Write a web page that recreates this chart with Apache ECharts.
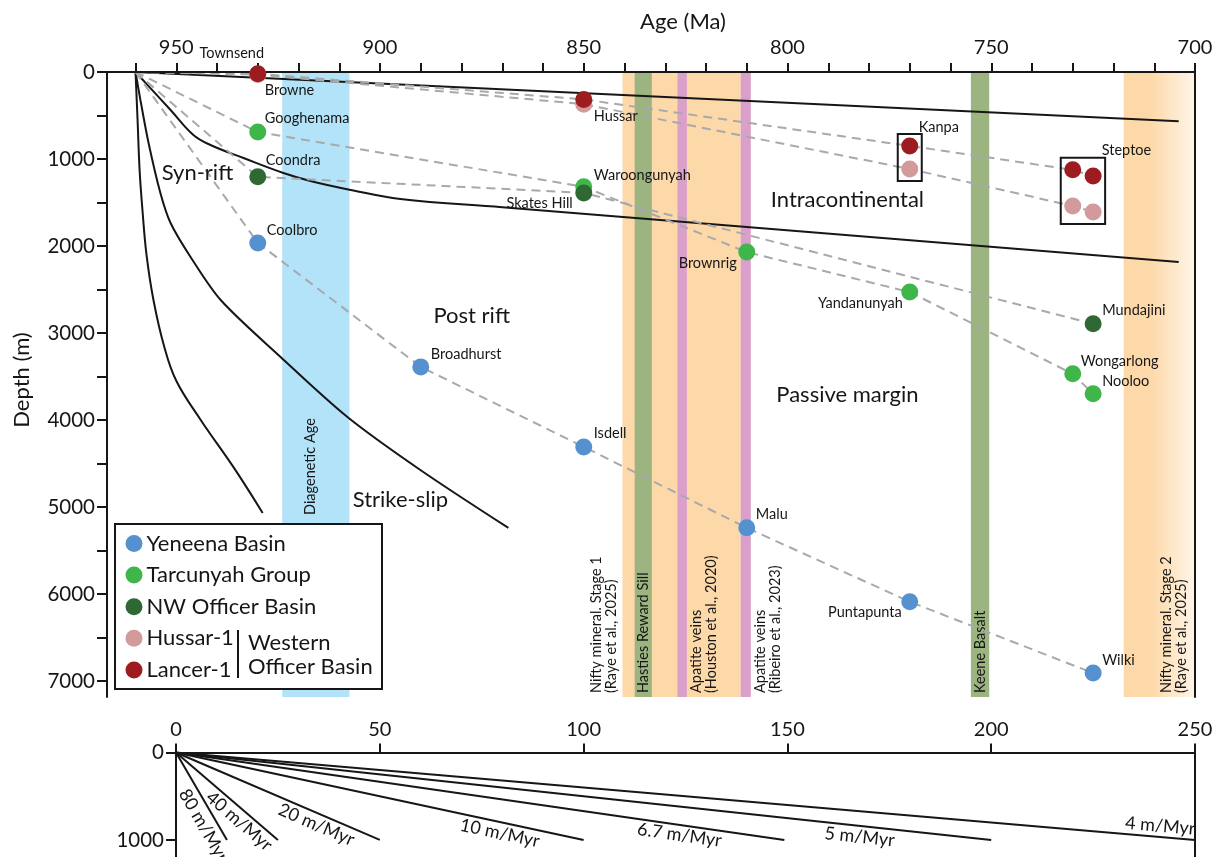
<!DOCTYPE html>
<html>
<head>
<meta charset="utf-8">
<script src="https://cdn.jsdelivr.net/npm/echarts@6/dist/echarts.min.js"></script>
<style>
  html, body { margin: 0; padding: 0; background: #fff; }
  #chart { width: 1218px; height: 857px; }
</style>
</head>
<body>
<div id="chart"></div>
<script>
// ---------------- data (age in Ma, depth in m) ----------------
const originAge = 960;
const originDepth = 0;

const yeneenaAge   = [930, 890, 850, 810, 770, 725];
const yeneenaDepth = [1965, 3390, 4310, 5240, 6090, 6910];
const yeneenaName  = ['Coolbro', 'Broadhurst', 'Isdell', 'Malu', 'Puntapunta', 'Wilki'];

const tarcunyahAge   = [930, 850, 810, 770, 730, 725];
const tarcunyahDepth = [690, 1320, 2070, 2530, 3470, 3700];
const tarcunyahName  = ['Googhenama', 'Waroongunyah', 'Brownrig', 'Yandanunyah', 'Wongarlong', 'Nooloo'];

const nwOfficerAge   = [930, 850, 725];
const nwOfficerDepth = [1205, 1390, 2895];
const nwOfficerName  = ['Coondra', 'Skates Hill', 'Mundajini'];

const hussarAge   = [930, 850, 770, 730, 725];
const hussarDepth = [30, 370, 1115, 1540, 1610];
const hussarName  = ['Browne', 'Hussar', 'Kanpa', 'Steptoe', 'Steptoe'];

const lancerAge   = [930, 850, 770, 730, 725];
const lancerDepth = [20, 315, 850, 1125, 1195];
const lancerName  = ['Townsend', 'Hussar', 'Kanpa', 'Steptoe', 'Steptoe'];

// formations boxed together (both wells)
const boxedFormation = ['Kanpa', 'Steptoe'];

// tectonic subsidence envelopes [age, depth]
const curveIntracontinental = [[960, 0], [704, 565]];
const curveSynRift = [[960, 0], [951.4, 437], [945.8, 724], [941.6, 839], [933.5, 989],
  [923.7, 1161], [917.1, 1253], [907.2, 1356], [895, 1460], [870, 1555], [704, 2184]];
const curvePostRift = [[960, 0], [958.8, 322], [956.8, 816], [953.9, 1391], [951.4, 1736],
  [946.5, 2126], [939.1, 2621], [924.4, 3276], [908, 3966], [890.1, 4575], [868.5, 5241]];
const curveStrikeSlip = [[960, 0], [959.5, 552], [959, 1126], [958.3, 1586], [957.3, 2103],
  [955.6, 2621], [953, 3150], [950, 3550], [944, 4000], [936, 4540], [928.8, 5069]];

// tectonic setting labels
const regionName  = ['Syn-rift', 'Intracontinental', 'Post rift', 'Passive margin', 'Strike-slip'];
const regionAge   = [944.8, 785.3, 877.5, 785.3, 895];
const regionDepth = [1161, 1471, 2805, 3713, 4920];

// dated events (older / younger bound in Ma)
const bandName = [
  'Diagenetic Age',
  'Nifty mineral. Stage 1\n(Raye et al., 2025)',
  'Hasties Reward Sill',
  'Apatite veins\n(Houston et al., 2020)',
  'Apatite veins\n(Ribeiro et al., 2023)',
  'Keene Basalt',
  'Nifty mineral. Stage 2\n(Raye et al., 2025)'
];
const bandOlder   = [924, 840.5, 837.5, 827, 811.5, 755, 717.5];
const bandYounger = [907.5, 811.5, 833.3, 824.7, 809, 750.5, 700];

// axis ticks
const ageTicks = [960, 950, 940, 930, 920, 910, 900, 890, 880, 870, 860, 850, 840, 830, 820,
  810, 800, 790, 780, 770, 760, 750, 740, 730, 720, 710, 700];
const ageTickLabels = [950, 900, 850, 800, 750, 700];
const depthTicks = [0, 500, 1000, 1500, 2000, 2500, 3000, 3500, 4000, 4500, 5000, 5500, 6000, 6500, 7000];
const depthTickLabels = [0, 1000, 2000, 3000, 4000, 5000, 6000, 7000];

// reference burial-rate lines
const burialRate = [80, 40, 20, 10, 6.7, 5, 4];
const rateLineDepth = 1000;
const timeTicks = [0, 50, 100, 150, 200, 250];
const rateDepthTicks = [0, 1000];

// ---------------- styling ----------------
const FONT = 'Lato';
const INK = '#161616';
const groupColor = {
  'Yeneena Basin': '#5591cf',
  'Tarcunyah Group': '#3fb64a',
  'NW Officer Basin': '#2f6833',
  'Hussar-1': '#d29a9b',
  'Lancer-1': '#9c1c20'
};
const bandFill = {
  'Diagenetic Age': '#b3e3f9',
  'Nifty mineral. Stage 1\n(Raye et al., 2025)': '#fdd9a9',
  'Hasties Reward Sill': '#9cb480',
  'Apatite veins\n(Houston et al., 2020)': '#dba0ca',
  'Apatite veins\n(Ribeiro et al., 2023)': '#dba0ca',
  'Keene Basalt': '#9cb480',
  'Nifty mineral. Stage 2\n(Raye et al., 2025)': new echarts.graphic.LinearGradient(0, 0, 1, 0, [
    { offset: 0, color: '#fdd9a9' }, { offset: 0.38, color: '#fdd9a9' }, { offset: 1, color: '#fff5e8' }
  ])
};
// where each event label sits: reference edge of the band, px shift, px above plot bottom
const bandLabelPlace = {
  'Diagenetic Age': { ref: 'mid', dx: -6, up: 182 },
  'Nifty mineral. Stage 1\n(Raye et al., 2025)': { ref: 'older', dx: -18.5, up: 4 },
  'Hasties Reward Sill': { ref: 'mid', dx: 0, up: 4 },
  'Apatite veins\n(Houston et al., 2020)': { ref: 'younger', dx: 16.5, up: 4 },
  'Apatite veins\n(Ribeiro et al., 2023)': { ref: 'younger', dx: 16.5, up: 4 },
  'Keene Basalt': { ref: 'mid', dx: 0, up: 4 },
  'Nifty mineral. Stage 2\n(Raye et al., 2025)': { ref: 'older', dx: 50, up: 4 }
};
// formation label offsets from the marker centre (px)
const pointLabelPlace = {
  'Lancer-1|Townsend': { align: 'center', dx: -26, dy: -20 },
  'Hussar-1|Browne': { align: 'left', dx: 7, dy: 16 },
  'Tarcunyah Group|Googhenama': { align: 'left', dx: 7, dy: -14 },
  'NW Officer Basin|Coondra': { align: 'left', dx: 8, dy: -16 },
  'Yeneena Basin|Coolbro': { align: 'left', dx: 9, dy: -13 },
  'Hussar-1|Hussar': { align: 'left', dx: 10, dy: 12 },
  'Tarcunyah Group|Waroongunyah': { align: 'left', dx: 10, dy: -11 },
  'NW Officer Basin|Skates Hill': { align: 'right', dx: -11, dy: 10 },
  'Tarcunyah Group|Brownrig': { align: 'right', dx: -10, dy: 11 },
  'Lancer-1|Kanpa': { align: 'left', dx: 9, dy: -19 },
  'Lancer-1|Steptoe': { align: 'left', dx: 29, dy: -20 },
  'Tarcunyah Group|Yandanunyah': { align: 'right', dx: -7, dy: 11 },
  'NW Officer Basin|Mundajini': { align: 'left', dx: 9, dy: -13 },
  'Tarcunyah Group|Wongarlong': { align: 'left', dx: 8, dy: -13 },
  'Tarcunyah Group|Nooloo': { align: 'left', dx: 9, dy: -13 },
  'Yeneena Basin|Broadhurst': { align: 'left', dx: 10, dy: -13 },
  'Yeneena Basin|Isdell': { align: 'left', dx: 10, dy: -14 },
  'Yeneena Basin|Malu': { align: 'left', dx: 9, dy: -13 },
  'Yeneena Basin|Puntapunta': { align: 'right', dx: -8, dy: 11 },
  'Yeneena Basin|Wilki': { align: 'left', dx: 9, dy: -13 }
};
// rate label: fraction along the line, perpendicular offset (px, + = below)
const rateLabelPlace = {
  80: { at: 0.76, off: 13 }, 40: { at: 0.69, off: 11 }, 20: { at: 0.71, off: 11 },
  10: { at: 0.8, off: 11 }, 6.7: { at: 0.83, off: 10 }, 5: { at: 0.84, off: 11 }, 4: { at: 0.965, off: -11 }
};

const MARK = 17;
const plain = v => String(v);

// ---------------- series builders ----------------
function pointSeries(name, ages, depths, names, z) {
  const seen = new Set();
  return {
    type: 'scatter', name, xAxisIndex: 0, yAxisIndex: 0, z,
    symbol: 'circle', symbolSize: MARK, silent: true,
    itemStyle: { color: groupColor[name], opacity: 1 },
    data: ages.map((a, i) => {
      const key = name + '|' + names[i];
      const place = pointLabelPlace[key];
      const item = { name: names[i], value: [a, depths[i]] };
      if (place && !seen.has(key)) {
        seen.add(key);
        item.label = {
          show: true, formatter: names[i],
          position: [MARK / 2 + place.dx, MARK / 2 + place.dy],
          align: place.align, verticalAlign: 'middle',
          fontFamily: FONT, fontSize: 14.5, color: INK
        };
      } else {
        item.label = { show: false };
      }
      return item;
    })
  };
}

function pathSeries(ages, depths) {
  return {
    type: 'line', xAxisIndex: 0, yAxisIndex: 0, z: 3, silent: true,
    symbol: 'none',
    lineStyle: { color: '#a7a9ac', width: 2, type: [9, 6] },
    data: [[originAge, originDepth]].concat(ages.map((a, i) => [a, depths[i]]))
  };
}

function curveSeries(points, smooth) {
  return {
    type: 'line', xAxisIndex: 0, yAxisIndex: 0, z: 3, silent: true,
    symbol: 'none', smooth: smooth,
    lineStyle: { color: INK, width: 2 },
    data: points
  };
}

const series = [
  // event bands
  {
    type: 'custom', xAxisIndex: 0, yAxisIndex: 0, z: 1, silent: true,
    data: bandName.map((n, i) => [bandOlder[i], bandYounger[i]]),
    renderItem(params, api) {
      const cs = params.coordSys;
      const x0 = api.coord([api.value(0), 0])[0];
      const x1 = api.coord([api.value(1), 0])[0];
      return {
        type: 'rect',
        shape: { x: Math.min(x0, x1), y: cs.y, width: Math.abs(x1 - x0), height: cs.height },
        style: { fill: bandFill[bandName[params.dataIndex]] }
      };
    }
  },
  // event labels
  {
    type: 'custom', xAxisIndex: 0, yAxisIndex: 0, z: 2, silent: true,
    data: bandName.map((n, i) => [bandOlder[i], bandYounger[i]]),
    renderItem(params, api) {
      const cs = params.coordSys;
      const name = bandName[params.dataIndex];
      const place = bandLabelPlace[name];
      const xo = api.coord([api.value(0), 0])[0];
      const xy = api.coord([api.value(1), 0])[0];
      const xr = place.ref === 'older' ? xo : place.ref === 'younger' ? xy : (xo + xy) / 2;
      return {
        type: 'text', x: xr + place.dx, y: cs.y + cs.height - place.up,
        rotation: Math.PI / 2,
        style: {
          text: name, fill: INK, font: '14.5px ' + FONT, lineHeight: 15,
          align: 'left', verticalAlign: 'middle'
        }
      };
    }
  },
  curveSeries(curveIntracontinental, false),
  curveSeries(curveSynRift, 0.4),
  curveSeries(curvePostRift, 0.3),
  curveSeries(curveStrikeSlip, 0.4),
  pathSeries(yeneenaAge, yeneenaDepth),
  pathSeries(tarcunyahAge, tarcunyahDepth),
  pathSeries(nwOfficerAge, nwOfficerDepth),
  pathSeries(hussarAge, hussarDepth),
  pathSeries(lancerAge, lancerDepth),
  pointSeries('Yeneena Basin', yeneenaAge, yeneenaDepth, yeneenaName, 10),
  pointSeries('Tarcunyah Group', tarcunyahAge, tarcunyahDepth, tarcunyahName, 10),
  pointSeries('NW Officer Basin', nwOfficerAge, nwOfficerDepth, nwOfficerName, 10),
  pointSeries('Hussar-1', hussarAge, hussarDepth, hussarName, 10),
  pointSeries('Lancer-1', lancerAge, lancerDepth, lancerName, 10),
  // boxes around formations sampled in both wells
  {
    type: 'custom', xAxisIndex: 0, yAxisIndex: 0, z: 11, silent: true,
    data: boxedFormation.map(f => [lancerAge[lancerName.indexOf(f)], lancerDepth[lancerName.indexOf(f)]]),
    renderItem(params, api) {
      const f = boxedFormation[params.dataIndex];
      const pts = [];
      [[lancerAge, lancerDepth, lancerName], [hussarAge, hussarDepth, hussarName]].forEach(([a, d, n]) => {
        n.forEach((nm, i) => { if (nm === f) pts.push(api.coord([a[i], d[i]])); });
      });
      const xs = pts.map(p => p[0]), ys = pts.map(p => p[1]);
      const pad = MARK / 2 + 3.5;
      const x0 = Math.min(...xs) - pad, x1 = Math.max(...xs) + pad;
      const y0 = Math.min(...ys) - pad, y1 = Math.max(...ys) + pad;
      return {
        type: 'rect', shape: { x: x0, y: y0, width: x1 - x0, height: y1 - y0 },
        style: { fill: 'none', stroke: INK, lineWidth: 2 }
      };
    }
  },
  // tectonic setting labels
  {
    type: 'custom', xAxisIndex: 0, yAxisIndex: 0, z: 12, silent: true,
    data: regionName.map((n, i) => [regionAge[i], regionDepth[i]]),
    renderItem(params, api) {
      const p = api.coord([api.value(0), api.value(1)]);
      return {
        type: 'text', x: p[0], y: p[1],
        style: {
          text: regionName[params.dataIndex], fill: INK, font: '22px ' + FONT,
          align: 'center', verticalAlign: 'middle'
        }
      };
    }
  }
];

// burial-rate reference lines
burialRate.forEach(r => {
  series.push({
    type: 'line', xAxisIndex: 2, yAxisIndex: 2, z: 3, silent: true, symbol: 'none',
    lineStyle: { color: INK, width: 2 },
    data: [[0, 0], [rateLineDepth / r, rateLineDepth]]
  });
});
series.push({
  type: 'custom', xAxisIndex: 2, yAxisIndex: 2, z: 4, silent: true,
  data: burialRate.map(r => [rateLineDepth / r, rateLineDepth]),
  renderItem(params, api) {
    const r = burialRate[params.dataIndex];
    const place = rateLabelPlace[r];
    const p0 = api.coord([0, 0]);
    const p1 = api.coord([api.value(0), api.value(1)]);
    const dx = p1[0] - p0[0], dy = p1[1] - p0[1];
    const len = Math.hypot(dx, dy);
    const ux = dx / len, uy = dy / len;
    const cx = p0[0] + dx * place.at - uy * place.off;
    const cy = p0[1] + dy * place.at + ux * place.off;
    return {
      type: 'text', x: cx, y: cy, rotation: -Math.atan2(dy, dx),
      style: {
        text: r + ' m/Myr', fill: INK, font: '18px ' + FONT,
        align: 'center', verticalAlign: 'middle'
      }
    };
  }
});

// ---------------- axes ----------------
const axisLine = { show: true, lineStyle: { color: INK, width: 2 } };
const bare = { axisLine, axisTick: { show: false }, axisLabel: { show: false }, splitLine: { show: false } };

const option = {
  animation: false,
  backgroundColor: '#fff',
  textStyle: { fontFamily: FONT },
  grid: [
    { left: 107, right: 23, top: 72, height: 625, containLabel: false },
    { left: 176, right: 23, top: 752.5, height: 104.5, containLabel: false }
  ],
  xAxis: [
    {
      gridIndex: 0, type: 'value', position: 'top', min: 700, max: 967, inverse: true, z: 4,
      axisLine,
      axisTick: { show: true, customValues: ageTicks, length: 9, lineStyle: { color: INK, width: 2 } },
      axisLabel: { show: true, customValues: ageTickLabels, formatter: plain, fontSize: 20, color: INK, margin: 14, fontFamily: FONT },
      splitLine: { show: false }
    },
    Object.assign({ gridIndex: 0, type: 'value', position: 'bottom', min: 700, max: 967, inverse: true, z: 4 }, bare),
    {
      gridIndex: 1, type: 'value', position: 'top', min: 0, max: 250, z: 4,
      axisLine,
      axisTick: { show: true, customValues: timeTicks, length: 9, lineStyle: { color: INK, width: 2 } },
      axisLabel: { show: true, customValues: timeTicks, formatter: plain, fontSize: 20, color: INK, margin: 13, fontFamily: FONT },
      splitLine: { show: false }
    }
  ],
  yAxis: [
    {
      gridIndex: 0, type: 'value', min: 0, max: 7185, inverse: true, z: 4,
      axisLine,
      axisTick: { show: true, customValues: depthTicks, length: 10, lineStyle: { color: INK, width: 2 } },
      axisLabel: { show: true, customValues: depthTickLabels, formatter: plain, fontSize: 20.5, color: INK, margin: 12, fontFamily: FONT },
      splitLine: { show: false }
    },
    Object.assign({ gridIndex: 0, type: 'value', position: 'right', min: 0, max: 7185, inverse: true, z: 4 }, bare),
    {
      gridIndex: 1, type: 'value', min: 0, max: 1195, inverse: true, z: 4,
      axisLine,
      axisTick: { show: true, customValues: rateDepthTicks, length: 10, lineStyle: { color: INK, width: 2 } },
      axisLabel: { show: true, customValues: rateDepthTicks, formatter: plain, fontSize: 20.5, color: INK, margin: 12, fontFamily: FONT },
      splitLine: { show: false }
    },
    Object.assign({ gridIndex: 1, type: 'value', position: 'right', min: 0, max: 1195, inverse: true, z: 4 }, bare)
  ],
  legend: {
    orient: 'vertical', left: 125.5, top: 532.5, padding: 0, z: 7,
    icon: 'circle', itemWidth: MARK, itemHeight: MARK, itemGap: 9.6,
    selectedMode: false,
    data: ['Yeneena Basin', 'Tarcunyah Group', 'NW Officer Basin', 'Hussar-1', 'Lancer-1'],
    textStyle: { fontFamily: FONT, fontSize: 22, lineHeight: 22, color: INK, padding: [0, 0, 0, -1] }
  },
  graphic: [
    {
      type: 'rect', z: 6, silent: true,
      shape: { x: 115, y: 524, width: 267, height: 165 },
      style: { fill: '#fff', stroke: INK, lineWidth: 2 }
    },
    {
      type: 'line', z: 8, silent: true,
      shape: { x1: 238, y1: 630, x2: 238, y2: 678 },
      style: { stroke: INK, lineWidth: 2 }
    },
    {
      type: 'text', z: 8, silent: true, x: 248, y: 655,
      style: { text: 'Western\nOfficer Basin', font: '22px ' + FONT, lineHeight: 24, fill: INK, align: 'left', verticalAlign: 'middle' }
    },
    {
      type: 'text', z: 8, silent: true, x: 683, y: 22,
      style: { text: 'Age (Ma)', font: '22px ' + FONT, fill: INK, align: 'center', verticalAlign: 'middle' }
    },
    {
      type: 'text', z: 8, silent: true, x: 22, y: 380, rotation: Math.PI / 2,
      style: { text: 'Depth (m)', font: '22px ' + FONT, fill: INK, align: 'center', verticalAlign: 'middle' }
    }
  ],
  series
};

const chart = echarts.init(document.getElementById('chart'), null, { renderer: 'canvas' });
chart.setOption(option);
</script>
</body>
</html>
